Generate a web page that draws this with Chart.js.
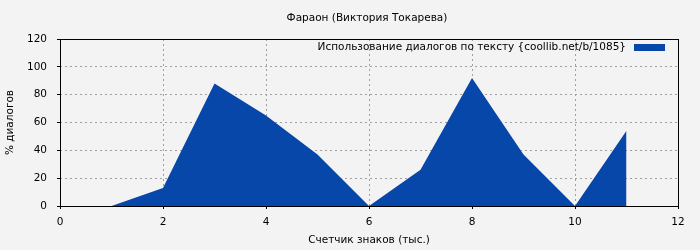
<!DOCTYPE html>
<html><head><meta charset="utf-8">
<script src="https://cdn.jsdelivr.net/npm/chart.js@4"></script>
<style>html,body{margin:0;padding:0;background:#f3f3f3}#wrap{width:700px;height:250px}</style>
</head><body><div id="wrap"><canvas id="c" width="700" height="250"></canvas></div>
<script>
const chartTitle = 'Фараон (Виктория Токарева)';
const seriesLabel = 'Использование диалогов по тексту {coollib.net/b/1085}';
const xTitle = 'Счетчик знаков (тыс.)';
const yTitle = '% диалогов';
const xValues = [0, 1, 2, 3, 4, 5, 6, 7, 8, 9, 10, 11];
const yValues = [0, 0, 13, 88, 65, 37, 0, 26, 92, 37, 0, 54];

const FONT = 'DejaVu Sans';
const fill = '#0747a9';

const framePlugin = {
  id: 'frame',
  afterDraw(chart) {
    const {ctx, chartArea: a} = chart;
    ctx.save();
    ctx.strokeStyle = '#000'; ctx.lineWidth = 1;
    ctx.strokeRect(Math.round(a.left) + 0.5, Math.round(a.top) + 0.5, Math.round(a.right - a.left), Math.round(a.bottom - a.top));
    ctx.fillStyle = '#000';
    ctx.font = '10.5px "' + FONT + '"';
    ctx.textAlign = 'center'; ctx.textBaseline = 'middle';
    ctx.fillText(chartTitle, 367, 18);
    // legend
    ctx.textAlign = 'right';
    ctx.fillText(chart.data.datasets[0].label, 626, 47);
    ctx.fillStyle = fill;
    ctx.fillRect(634, 44, 31, 7);
    ctx.restore();
  }
};

new Chart(document.getElementById('c'), {
  type: 'line',
  data: {
    datasets: [{
      label: seriesLabel,
      data: xValues.map((x, i) => ({x, y: yValues[i]})),
      fill: 'origin',
      backgroundColor: fill,
      borderColor: fill,
      borderWidth: 0,
      pointRadius: 0,
      tension: 0
    }]
  },
  plugins: [framePlugin],
  options: {
    responsive: false,
    animation: false,
    layout: {padding: {left: 0, top: 39, right: 22, bottom: 0}},
    plugins: {legend: {display: false}, title: {display: false}, tooltip: {enabled: false}},
    scales: {
      x: {
        type: 'linear', min: 0, max: 12,
        ticks: {stepSize: 2, color: '#000', font: {family: FONT, size: 10.5}, padding: 7, maxRotation: 0},
        grid: {color: '#a0a0a0', tickColor: '#000', tickLength: 3, drawOnChartArea: true},
        border: {display: false, dash: [2, 3]},
        title: {display: true, text: xTitle, color: '#000', font: {family: FONT, size: 10.5}, padding: {top: 4, bottom: 3}},
        afterFit(s) { s.height = 44; }
      },
      y: {
        min: 0, max: 120,
        ticks: {stepSize: 20, color: '#000', font: {family: FONT, size: 10.5}, padding: 10},
        grid: {color: '#a0a0a0', tickColor: '#000', tickLength: 3},
        border: {display: false, dash: [2, 3]},
        title: {display: true, text: yTitle, color: '#000', font: {family: FONT, size: 10.5}, padding: {top: 4, bottom: 0}},
        afterFit(s) { s.width = 60; }
      }
    }
  }
});
</script></body></html>
